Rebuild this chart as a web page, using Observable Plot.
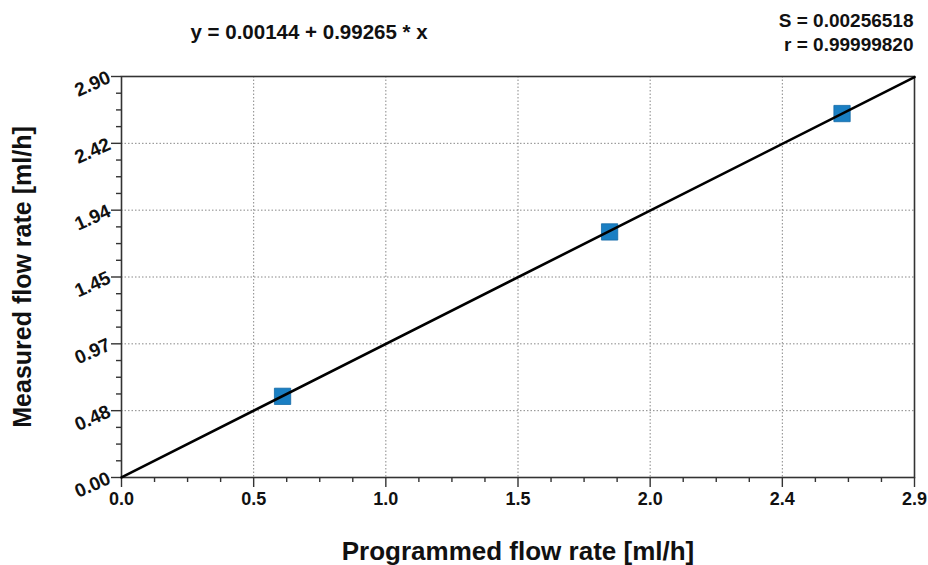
<!DOCTYPE html>
<html>
<head>
<meta charset="utf-8">
<script src="https://cdn.jsdelivr.net/npm/d3@7"></script>
<script src="https://cdn.jsdelivr.net/npm/@observablehq/plot@0.6"></script>
<style>
  html, body { margin: 0; padding: 0; background: #fff; }
  svg { display: block; }
</style>
</head>
<body>
<div id="chart"></div>
<script>
// ---- data ----
const programmed = [0.589, 1.785, 2.635];
const measured   = [0.587, 1.776, 2.632];
const fitX = [0.0, 2.9];
const fitY = [0.0014, 2.895];

const xTicks = [0, 0.48333, 0.96667, 1.45, 1.93333, 2.41667, 2.9];
const xTickLabels = ["0.0", "0.5", "1.0", "1.5", "2.0", "2.4", "2.9"];
const yTicks = [0, 0.48333, 0.96667, 1.45, 1.93333, 2.41667, 2.9];
const yTickLabels = ["0.00", "0.48", "0.97", "1.45", "1.94", "2.42", "2.90"];
const minorTicks = [0.12083, 0.24167, 0.3625, 0.60417, 0.725, 0.84583,
  1.0875, 1.20833, 1.32917, 1.57083, 1.69167, 1.8125, 2.05417, 2.175, 2.29583,
  2.5375, 2.65833, 2.77917];

const equationText = "y = 0.00144 + 0.99265 * x";
const statS = "S = 0.00256518";
const statR = "r = 0.99999820";
const xLabel = "Programmed flow rate [ml/h]";
const yLabel = "Measured flow rate [ml/h]";

const points = programmed.map((x, i) => ({x, y: measured[i]}));
const fit = fitX.map((x, i) => ({x, y: fitY[i]}));

const axisColor = "#333";
const boldFont = "'Liberation Sans', Arial, sans-serif";

const chart = Plot.plot({
  width: 928,
  height: 565,
  marginLeft: 121,
  marginRight: 14,
  marginTop: 76,
  marginBottom: 88,
  x: {domain: [0, 2.9]},
  y: {domain: [0, 2.9]},
  style: {fontFamily: boldFont, background: "#fff"},
  marks: [
    // grid
    Plot.gridX(xTicks.slice(1, -1), {stroke: "#888", strokeOpacity: 1, strokeWidth: 1, strokeDasharray: "1.5,2"}),
    Plot.gridY(yTicks.slice(1, -1), {stroke: "#888", strokeOpacity: 1, strokeWidth: 1, strokeDasharray: "1.5,2"}),
    // frame
    Plot.frame({stroke: axisColor, strokeWidth: 1.6}),
    // minor ticks
    Plot.axisX(minorTicks, {tickSize: 5, tickFormat: () => "", label: null, stroke: axisColor, strokeWidth: 1.4}),
    Plot.axisY(minorTicks, {tickSize: 5, tickFormat: () => "", label: null, stroke: axisColor, strokeWidth: 1.4}),
    // major ticks
    Plot.axisX(xTicks, {
      tickSize: 10, tickPadding: 5, label: null,
      tickFormat: (d, i) => xTickLabels[i],
      stroke: axisColor, strokeWidth: 1.4,
      fontSize: 18, fontWeight: "bold", fill: "#111"
    }),
    Plot.axisY(yTicks, {
      tickSize: 10, tickPadding: 2, label: null,
      tickFormat: (d, i) => yTickLabels[i],
      stroke: axisColor, strokeWidth: 1.4,
      fontSize: 19, fontWeight: "bold", fill: "#111", tickRotate: -24
    }),
    // data
    Plot.dot(points, {x: "x", y: "y", symbol: "square", r: 9.2, fill: "#1a7fc3", stroke: "#136aa6", strokeWidth: 0.8}),
    Plot.line(fit, {x: "x", y: "y", stroke: "#000", strokeWidth: 2.6}),
    // titles & labels
    Plot.text([equationText], {frameAnchor: "top-left", dx: 69, dy: -44, textAnchor: "start", lineAnchor: "middle", fontSize: 20.5, fontWeight: "bold", fill: "#111"}),
    Plot.text([statS], {frameAnchor: "top-right", dx: -1, dy: -56, textAnchor: "end", lineAnchor: "middle", fontSize: 19, fontWeight: "bold", fill: "#111"}),
    Plot.text([statR], {frameAnchor: "top-right", dx: -1, dy: -32, textAnchor: "end", lineAnchor: "middle", fontSize: 19, fontWeight: "bold", fill: "#111"}),
    Plot.text([xLabel], {frameAnchor: "bottom", dy: 74, textAnchor: "middle", lineAnchor: "middle", fontSize: 26, fontWeight: "bold", fill: "#111"}),
    Plot.text([yLabel], {frameAnchor: "left", dx: -99, textAnchor: "middle", lineAnchor: "middle", rotate: -90, fontSize: 25, fontWeight: "bold", fill: "#111"})
  ]
});
document.getElementById("chart").appendChild(chart);
</script>
</body>
</html>
